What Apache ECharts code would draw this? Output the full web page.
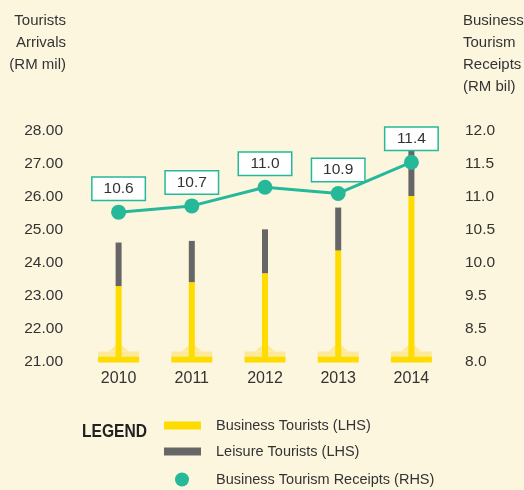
<!DOCTYPE html>
<html>
<head>
<meta charset="utf-8">
<script src="https://cdn.jsdelivr.net/npm/echarts@6/dist/echarts.min.js"></script>
<style>
  html, body { margin: 0; padding: 0; background: #fdf6df; }
  #chart { width: 524px; height: 490px; }
</style>
</head>
<body>
<div id="chart"></div>
<script>
// values
const years = ['2010', '2011', '2012', '2013', '2014']
const businessTourists = [23.30, 23.42, 23.69, 24.38, 26.03]
const leisureTourists = [1.32, 1.25, 1.33, 1.30, 1.37]
const receipts = [10.6, 10.7, 11.0, 10.9, 11.4]
const receiptTicks = ['8.0', '8.5', '9.5', '10.0', '10.5', '11.0', '11.5', '12.0']

const font = '"Liberation Sans", Arial, sans-serif'
const text = '#333333'
const yellow = '#ffdc00'
const pale = '#fde99a'
const grey = '#666666'
const teal = '#25b99a'
const arrivalMin = 21

const chart = echarts.init(document.getElementById('chart'))
chart.setOption({
  backgroundColor: '#fdf6df',
  animation: false,
  grid: { left: 82, right: 76, top: 131, bottom: 128, outerBoundsMode: 'none' },
  xAxis: {
    type: 'category',
    data: years,
    axisLine: { show: false },
    axisTick: { show: false },
    axisLabel: { color: text, fontFamily: font, fontSize: 16, margin: 9 }
  },
  yAxis: [
    {
      type: 'value',
      min: arrivalMin,
      max: 28,
      interval: 1,
      name: 'Tourists\nArrivals\n(RM mil)',
      nameLocation: 'end',
      nameGap: 55,
      nameTextStyle: {
        color: text, fontFamily: font, fontSize: 15, lineHeight: 22,
        align: 'right', verticalAlign: 'bottom', padding: [0, 16, 0, 0]
      },
      axisLine: { show: false },
      axisTick: { show: false },
      splitLine: { show: false },
      axisLabel: {
        color: text, fontFamily: font, fontSize: 15.5, margin: 19,
        formatter: v => v.toFixed(2)
      }
    },
    {
      type: 'value',
      position: 'right',
      min: 0,
      max: receiptTicks.length - 1,
      interval: 1,
      name: 'Business\nTourism\nReceipts\n(RM bil)',
      nameLocation: 'end',
      nameGap: 33,
      nameTextStyle: {
        color: text, fontFamily: font, fontSize: 15, lineHeight: 22,
        align: 'left', verticalAlign: 'bottom', padding: [0, 0, 0, 15]
      },
      axisLine: { show: false },
      axisTick: { show: false },
      splitLine: { show: false },
      axisLabel: {
        color: text, fontFamily: font, fontSize: 15.5, margin: 17,
        formatter: v => receiptTicks[v]
      }
    },
    {
      // scale the receipt dots actually sit on
      type: 'value',
      position: 'right',
      min: 8.2,
      max: 11.9,
      show: false
    }
  ],
  legend: [
    {
      orient: 'vertical',
      left: 164,
      top: 418,
      padding: 0,
      itemWidth: 37,
      itemHeight: 8,
      itemGap: 11,
      icon: 'rect',
      data: ['Business Tourists (LHS)', 'Leisure Tourists (LHS)'],
      formatter: '{t|{name}}',
      textStyle: {
        rich: { t: { color: text, fontFamily: font, fontSize: 14.5, padding: [0, 0, 0, 10] } }
      }
    },
    {
      orient: 'vertical',
      left: 175,
      top: 472,
      padding: 0,
      itemWidth: 14,
      itemHeight: 14,
      data: [{ name: 'Business Tourism Receipts (RHS)', icon: 'circle' }],
      formatter: '{t|{name}}',
      textStyle: {
        rich: { t: { color: text, fontFamily: font, fontSize: 14.5, padding: [0, 0, 0, 22] } }
      }
    }
  ],
  graphic: [
    {
      type: 'text',
      x: 82,
      y: 432,
      scaleX: 0.82,
      style: { text: 'LEGEND', fill: '#222', font: 'bold 19px ' + font, verticalAlign: 'middle' }
    }
  ],
  series: [
    {
      name: 'Business Tourists (LHS)',
      type: 'bar',
      stack: 'arrivals',
      barWidth: 6,
      itemStyle: { color: yellow },
      data: businessTourists
    },
    {
      name: 'Leisure Tourists (LHS)',
      type: 'bar',
      stack: 'arrivals',
      barWidth: 6,
      itemStyle: { color: grey },
      data: leisureTourists
    },
    {
      // little stand under each bar
      type: 'custom',
      data: years.map(y => [y, arrivalMin]),
      encode: { x: 0, y: 1 },
      silent: true,
      renderItem (params, api) {
        const p = api.coord([api.value(0), api.value(1)])
        const x = p[0]
        const y = p[1]
        return {
          type: 'group',
          children: [
            { type: 'polygon', shape: { points: [[x - 10, y - 10.5], [x, y - 19.5], [x + 10, y - 10.5]] }, style: { fill: pale } },
            { type: 'rect', shape: { x: x - 20.5, y: y - 10.5, width: 41, height: 5.5 }, style: { fill: pale } },
            { type: 'rect', shape: { x: x - 20.5, y: y - 5.2, width: 41, height: 5.8 }, style: { fill: yellow } }
          ]
        }
      }
    },
    {
      name: 'Business Tourism Receipts (RHS)',
      type: 'line',
      yAxisIndex: 2,
      z: 5,
      symbol: 'circle',
      symbolSize: 15,
      lineStyle: { color: teal, width: 3 },
      itemStyle: { color: teal },
      label: {
        show: true,
        position: 'top',
        distance: 5,
        formatter: p => p.value.toFixed(1),
        color: text,
        fontFamily: font,
        fontSize: 15.5,
        backgroundColor: '#ffffff',
        borderColor: teal,
        borderWidth: 1.5,
        padding: [3, 8],
        width: 36,
        height: 16,
        align: 'center'
      },
      data: receipts
    }
  ]
})
</script>
</body>
</html>
